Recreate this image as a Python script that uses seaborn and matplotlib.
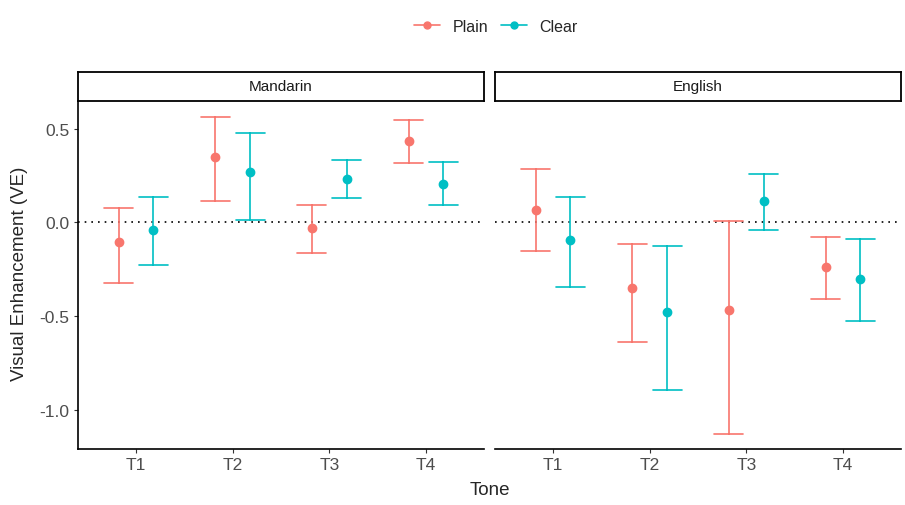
import numpy as np
import matplotlib
matplotlib.use("Agg")
import matplotlib.pyplot as plt
from matplotlib.lines import Line2D
import seaborn as sns
import pandas as pd

# values (mean and interval ends)
tones = ["T1", "T2", "T3", "T4"]
languages = ["Mandarin", "English"]
conditions = ["Plain", "Clear"]
colors = ["#F8766D", "#00BFC4"]

mandarin_plain_mean = [-0.107, 0.350, -0.032, 0.432]
mandarin_plain_lo = [-0.324, 0.112, -0.164, 0.317]
mandarin_plain_hi = [0.076, 0.561, 0.094, 0.548]
mandarin_clear_mean = [-0.041, 0.270, 0.233, 0.206]
mandarin_clear_lo = [-0.228, 0.012, 0.130, 0.092]
mandarin_clear_hi = [0.135, 0.478, 0.334, 0.322]

english_plain_mean = [0.066, -0.349, -0.466, -0.237]
english_plain_lo = [-0.155, -0.637, -1.130, -0.410]
english_plain_hi = [0.283, -0.116, 0.009, -0.080]
english_clear_mean = [-0.096, -0.481, 0.112, -0.303]
english_clear_lo = [-0.347, -0.894, -0.041, -0.529]
english_clear_hi = [0.133, -0.128, 0.260, -0.089]

series = {
    ("Mandarin", "Plain"): (mandarin_plain_lo, mandarin_plain_mean, mandarin_plain_hi),
    ("Mandarin", "Clear"): (mandarin_clear_lo, mandarin_clear_mean, mandarin_clear_hi),
    ("English", "Plain"): (english_plain_lo, english_plain_mean, english_plain_hi),
    ("English", "Clear"): (english_clear_lo, english_clear_mean, english_clear_hi),
}

# long table: three rows per group so median = mean and full range = interval
rows = []
for (lang, cond), (lo, mid, hi) in series.items():
    for i, t in enumerate(tones):
        for v in (lo[i], mid[i], hi[i]):
            rows.append({"Language": lang, "Condition": cond, "Tone": t, "VE": v})
df = pd.DataFrame(rows)

sns.set_theme(style="white")
plt.rcParams["font.family"] = ["Liberation Sans", "DejaVu Sans"]
plt.rcParams["axes.unicode_minus"] = False

W, H = 905, 506
fig = plt.figure(figsize=(W / 100, H / 100), dpi=100)

panel_x = [78, 495]
panel_w = 406
panel_top, panel_bot = 102, 450
strip_top = 73

for k, lang in enumerate(languages):
    ax = fig.add_axes([panel_x[k] / W, 1 - panel_bot / H, panel_w / W, (panel_bot - panel_top) / H])
    sub = df[df["Language"] == lang]
    ax.axhline(0, color="black", lw=1.2, linestyle=(0, (1, 3)), zorder=0)
    sns.pointplot(data=sub, x="Tone", y="VE", hue="Condition", order=tones,
                  hue_order=conditions, palette=colors, estimator="median",
                  errorbar=("pi", 100), dodge=0.36, capsize=0.3, linestyle="none",
                  markers="o", markersize=5, err_kws={"linewidth": 1.2}, ax=ax, legend=False)
    ax.set_xlim(-0.6, 3.6)
    ax.set_ylim(-1.211, 0.648)
    ax.set_xlabel("")
    ax.set_ylabel("")
    for s in ["top", "right"]:
        ax.spines[s].set_visible(False)
    ax.spines["bottom"].set_color("black")
    ax.spines["bottom"].set_linewidth(1.2)
    ax.tick_params(axis="x", length=3, width=0.8, color="#333333", labelsize=12.5,
                   labelcolor="#4D4D4D", pad=3, bottom=True)
    if k == 0:
        ax.spines["left"].set_color("black")
        ax.spines["left"].set_linewidth(1.2)
        ax.set_yticks([-1.0, -0.5, 0.0, 0.5])
        ax.set_yticklabels(["-1.0", "-0.5", "0.0", "0.5"])
        ax.tick_params(axis="y", length=3, width=0.8, color="#333333", labelsize=12.5,
                       labelcolor="#4D4D4D", pad=3, left=True)
    else:
        ax.spines["left"].set_visible(False)
        ax.set_yticks([])

    # facet strip
    sax = fig.add_axes([panel_x[k] / W, 1 - panel_top / H, panel_w / W, (panel_top - strip_top) / H])
    sax.set_xticks([])
    sax.set_yticks([])
    for s in sax.spines.values():
        s.set_color("black")
        s.set_linewidth(1.3)
    sax.text(0.5, 0.5, lang, ha="center", va="center", fontsize=11, color="#1A1A1A",
             transform=sax.transAxes)

fig.text(489.5 / W, 1 - 491 / H, "Tone", ha="center", va="center", fontsize=13.5)
fig.text(20 / W, 1 - 274 / H, "Visual Enhancement (VE)", ha="center", va="center",
         rotation=90, fontsize=13.5)

handles = [Line2D([0], [0], color=c, marker="o", markersize=5, lw=1.2) for c in colors]
fig.legend(handles, conditions, loc="center", bbox_to_anchor=(496 / W, 1 - 27 / H), ncol=2,
           frameon=False, fontsize=11.5, handlelength=1.6, handletextpad=0.8, columnspacing=0.8)

fig.savefig("out.png", dpi=100)
